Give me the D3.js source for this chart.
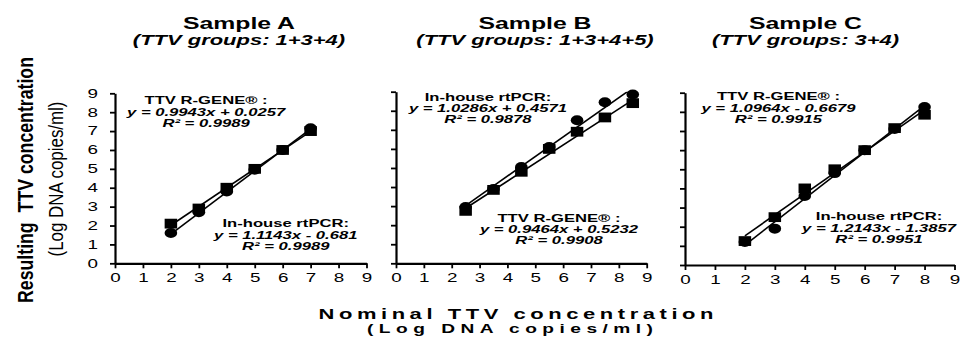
<!DOCTYPE html>
<html>
<head>
<meta charset="utf-8">
<script src="https://cdn.jsdelivr.net/npm/d3@7"></script>
<style>
  body { margin: 0; background: #fff; }
  svg { display: block; }
</style>
</head>
<body>
<script>
'use strict';

// ---- data ----
var sampleNames  = ['Sample A', 'Sample B', 'Sample C'];
var sampleGroups = ['(TTV groups: 1+3+4)', '(TTV groups: 1+3+4+5)', '(TTV groups: 3+4)'];

var nominalA = [2, 3, 4, 5, 6, 7];
var rgeneA   = [2.1, 2.9, 4.0, 5.0, 6.0, 7.0];
var inhouseA = [1.6, 2.7, 3.8, 4.95, 6.0, 7.15];

var nominalB = [2.5, 3.5, 4.5, 5.5, 6.5, 7.5, 8.5];
var rgeneB   = [2.75, 3.85, 4.8, 6.0, 6.9, 7.65, 8.4];
var inhouseB = [2.95, 3.9, 5.05, 6.1, 7.5, 8.45, 8.85];

var nominalC = [2, 3, 4, 5, 6, 7, 8];
var rgeneC   = [1.25, 2.5, 4.0, 5.0, 6.0, 7.15, 7.85];
var inhouseC = [1.2, 1.9, 3.6, 4.8, 6.0, 7.1, 8.25];

// trend line fits: slope, intercept, R²
var rgeneSlope       = [0.9943, 0.9464, 1.0964];
var rgeneIntercept   = [0.0257, 0.5232, -0.6679];
var rgeneR2          = ['0.9989', '0.9908', '0.9915'];
var inhouseSlope     = [1.1143, 1.0286, 1.2143];
var inhouseIntercept = [-0.681, 0.4571, -1.3857];
var inhouseR2        = ['0.9989', '0.9878', '0.9951'];

var axisTicks = [0, 1, 2, 3, 4, 5, 6, 7, 8, 9];

var rgeneName   = 'TTV R-GENE\u00AE :';
var inhouseName = 'In-house rtPCR:';

// ---- layout ----
var SX = 1.57;   // figure is stretched sideways
var FONT = '"Liberation Sans", Arial, sans-serif';

var panels = [
  { xr: [115, 366.5], yr: [263.3, 93.3], tx: 239,
    nominal: nominalA, rgene: rgeneA, inhouse: inhouseA,
    rgeneLab: [3.26, 8.43], inhouseLab: [6.11, 1.91] },
  { xr: [396, 646.7], yr: [263.3, 91.7], tx: 535,
    nominal: nominalB, rgene: rgeneB, inhouse: inhouseB,
    rgeneLab: [5.85, 2.18], inhouseLab: [3.30, 8.53] },
  { xr: [685, 954.5], yr: [265, 92.7], tx: 805.5,
    nominal: nominalC, rgene: rgeneC, inhouse: inhouseC,
    rgeneLab: [3.12, 8.62], inhouseLab: [6.48, 2.35] }
];

var svg = d3.select('body').append('svg')
    .attr('width', 960)
    .attr('height', 340)
    .style('font-family', FONT);

svg.append('rect').attr('width', 960).attr('height', 340).attr('fill', '#fff');

function wideText(g, x, y, str, size, weight, style) {
  return g.append('text')
    .attr('transform', 'translate(' + x + ',' + y + ') scale(' + SX + ',1)')
    .attr('text-anchor', 'middle')
    .attr('font-size', size)
    .attr('font-weight', weight || 'normal')
    .attr('font-style', style || 'normal')
    .attr('fill', '#000')
    .text(str);
}

function eqText(m, b) {
  return 'y = ' + m + 'x ' + (b < 0 ? '- ' : '+ ') + Math.abs(b);
}

panels.forEach(function(p, i) {
  var g = svg.append('g');
  var x = d3.scaleLinear().domain([0, 9]).range(p.xr);
  var y = d3.scaleLinear().domain([0, 9]).range(p.yr);

  // titles
  wideText(g, p.tx, 28.5, sampleNames[i], 15.8, 'bold');
  wideText(g, p.tx, 44.5, sampleGroups[i], 14, 'bold', 'italic');

  // clip for trend lines
  g.append('clipPath').attr('id', 'clip' + i)
    .append('rect')
      .attr('x', p.xr[0]).attr('y', p.yr[1])
      .attr('width', p.xr[1] - p.xr[0]).attr('height', p.yr[0] - p.yr[1]);

  // axes
  var xAxis = g.append('g')
      .attr('transform', 'translate(0,' + y(0) + ')')
      .call(d3.axisBottom(x).tickValues(axisTicks).tickSize(5).tickSizeOuter(0).tickPadding(5.5));
  var yAxis = g.append('g')
      .attr('transform', 'translate(' + x(0) + ',0)')
      .call(d3.axisLeft(y).tickValues(axisTicks).tickSize(5).tickSizeOuter(0));

  [xAxis, yAxis].forEach(function(a) {
    a.attr('font-family', FONT).attr('font-size', 12);
    a.select('.domain').attr('stroke', '#000').attr('stroke-width', 2.2);
    a.selectAll('.tick line').attr('stroke', '#000').attr('stroke-width', 1.8);
    a.selectAll('.tick text').attr('fill', '#000');
  });
  xAxis.selectAll('.tick text').attr('transform', 'scale(' + SX + ',1)');
  if (i === 0) {
    yAxis.selectAll('.tick text')
      .attr('x', -17 / SX)
      .attr('transform', 'scale(' + SX + ',1)');
  } else {
    yAxis.selectAll('.tick text').remove();
  }

  // trend lines
  var line = d3.line().x(function(d) { return x(d[0]); }).y(function(d) { return y(d[1]); });
  var x0 = d3.min(p.nominal), x1 = d3.max(p.nominal);
  var fits = [[rgeneSlope[i], rgeneIntercept[i]], [inhouseSlope[i], inhouseIntercept[i]]];
  g.append('g').attr('clip-path', 'url(#clip' + i + ')')
    .selectAll('path').data(fits).enter()
    .append('path')
      .attr('fill', 'none')
      .attr('stroke', '#000')
      .attr('stroke-width', 1.6)
      .attr('d', function(f) {
        return line([[x0, f[0] * x0 + f[1]], [x1, f[0] * x1 + f[1]]]);
      });

  // markers
  g.append('g').selectAll('rect').data(p.nominal).enter()
    .append('rect')
      .attr('x', function(d) { return x(d) - 6.25; })
      .attr('y', function(d, j) { return y(p.rgene[j]) - 4.9; })
      .attr('width', 12.5)
      .attr('height', 9.8)
      .attr('fill', '#000');

  g.append('g').selectAll('ellipse').data(p.nominal).enter()
    .append('ellipse')
      .attr('cx', function(d) { return x(d); })
      .attr('cy', function(d, j) { return y(p.inhouse[j]); })
      .attr('rx', 6.3)
      .attr('ry', 5)
      .attr('fill', '#000');

  // equation labels
  var labels = [
    [p.rgeneLab, rgeneName, eqText(rgeneSlope[i], rgeneIntercept[i]), rgeneR2[i]],
    [p.inhouseLab, inhouseName, eqText(inhouseSlope[i], inhouseIntercept[i]), inhouseR2[i]]
  ];
  labels.forEach(function(l) {
    var cx = x(l[0][0]), by = y(l[0][1]);
    wideText(g, cx, by, l[1], 10.6, 'bold');
    wideText(g, cx, by + 11.6, l[2], 10.6, 'bold', 'italic');
    wideText(g, cx, by + 22.6, 'R\u00B2 = ' + l[3], 10.6, 'bold', 'italic');
  });
});

// shared axis titles
svg.append('text')
  .attr('transform', 'translate(516,318.5) scale(' + SX + ',1)')
  .attr('text-anchor', 'middle')
  .attr('font-size', 14)
  .attr('font-weight', 'bold')
  .attr('textLength', 395 / SX)
  .attr('lengthAdjust', 'spacing')
  .text('Nominal TTV concentration');

svg.append('text')
  .attr('transform', 'translate(510,332.5) scale(' + SX + ',1)')
  .attr('text-anchor', 'middle')
  .attr('font-size', 12.2)
  .attr('font-weight', 'bold')
  .attr('textLength', 286 / SX)
  .attr('lengthAdjust', 'spacing')
  .text('(Log DNA copies/ml)');

svg.append('text')
  .attr('transform', 'translate(32.7,180) scale(1.22,1) rotate(-90)')
  .attr('text-anchor', 'middle')
  .attr('font-size', 17.5)
  .attr('font-weight', 'bold')
  .attr('textLength', 246)
  .attr('lengthAdjust', 'spacingAndGlyphs')
  .style('white-space', 'pre')
  .text('Resulting  TTV concentration');

svg.append('text')
  .attr('transform', 'translate(63,179) scale(1.16,1) rotate(-90)')
  .attr('text-anchor', 'middle')
  .attr('font-size', 16.8)
  .attr('textLength', 155)
  .attr('lengthAdjust', 'spacingAndGlyphs')
  .text('(Log DNA copies/ml)');
</script>
</body>
</html>
